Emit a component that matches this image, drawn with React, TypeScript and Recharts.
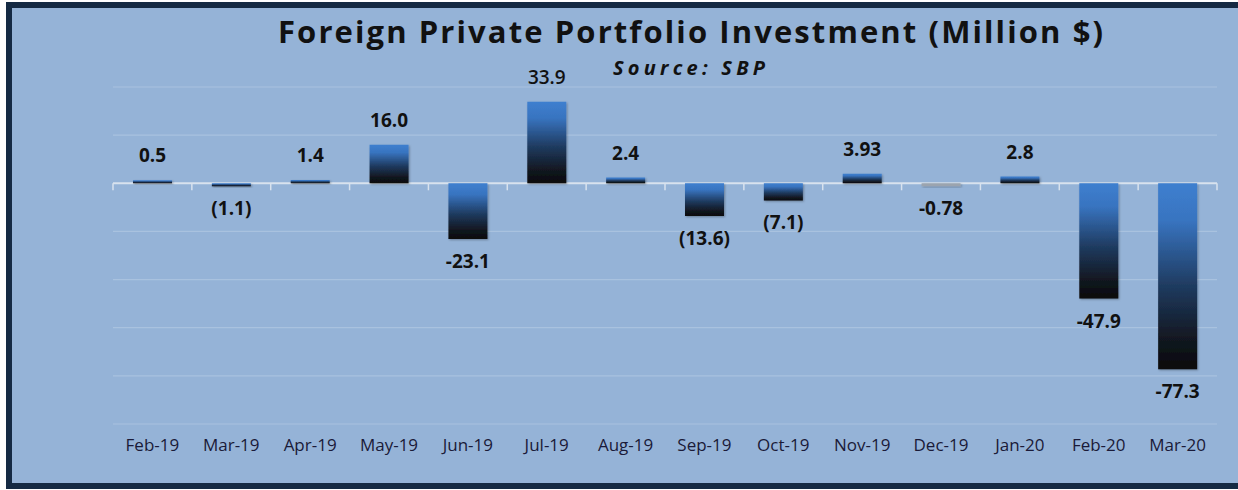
import React from "react";
import { BarChart, Bar, XAxis, YAxis, CartesianGrid, LabelList, Cell } from "recharts";

const categories = ["Feb-19", "Mar-19", "Apr-19", "May-19", "Jun-19", "Jul-19", "Aug-19", "Sep-19", "Oct-19", "Nov-19", "Dec-19", "Jan-20", "Feb-20", "Mar-20"];
const values = [0.5, -1.1, 1.4, 16.0, -23.1, 33.9, 2.4, -13.6, -7.1, 3.93, -0.78, 2.8, -47.9, -77.3];
const valueLabels = ["0.5", "(1.1)", "1.4", "16.0", "-23.1", "33.9", "2.4", "(13.6)", "(7.1)", "3.93", "-0.78", "2.8", "-47.9", "-77.3"];
const yTicks = [-100, -80, -60, -40, -20, 0, 20, 40];

const data = categories.map((c, i) => ({ month: c, value: values[i], label: valueLabels[i] }));

const W = 1238;
const H = 490;
const BG = "#95B3D7";
const BORDER = "#152A43";
const FONT = "'Open Sans', 'DejaVu Sans', sans-serif";
const ZERO_INDEX = yTicks.indexOf(0);

const GridLine = (props: any) => {
  const { x1, y1, x2, index } = props;
  if (index !== ZERO_INDEX) {
    return <line x1={x1} x2={x2} y1={y1} y2={y1} stroke="#A9C2DF" strokeWidth={1.2} />;
  }
  const n = categories.length;
  const step = (x2 - x1) / n;
  const ticks = [];
  for (let i = 0; i <= n; i++) {
    const x = x1 + i * step;
    ticks.push(<line key={i} x1={x} x2={x} y1={y1} y2={y1 + 7} stroke="#D8E2EE" strokeWidth={1.5} />);
  }
  return (
    <g>
      <line x1={x1} x2={x2} y1={y1} y2={y1} stroke="#D8E2EE" strokeWidth={2} />
      {ticks}
    </g>
  );
};

const renderLabel = (props: any) => {
  const { x, y, width, height, index } = props;
  const top = Math.min(y, y + height);
  const bottom = Math.max(y, y + height);
  const v = values[index];
  const cx = x + width / 2;
  const ty = v >= 0 ? top - 18 : bottom + 29;
  return (
    <text x={cx} y={ty} textAnchor="middle" fontFamily={FONT} fontSize={19} fontWeight={index === 5 ? 600 : 700} fill="#111111">
      {valueLabels[index]}
    </text>
  );
};

export default function App() {
  return (
    <div style={{ position: "absolute", left: 0, top: 0, width: W, height: H, background: "#ffffff", overflow: "hidden" }}>
      <svg width={0} height={0} style={{ position: "absolute", left: 0, top: 0 }}>
        <defs>
          <linearGradient id="barGrad" x1="0" y1="0" x2="0" y2="1">
            <stop offset="0%" stopColor="#3E7FCF" />
            <stop offset="20%" stopColor="#3874C0" />
            <stop offset="55%" stopColor="#1F3B60" />
            <stop offset="85%" stopColor="#11161E" />
            <stop offset="100%" stopColor="#0A0A0C" />
          </linearGradient>
          <filter id="barShadow" x="-10%" y="-30%" width="130%" height="160%">
            <feDropShadow dx="1" dy="1" stdDeviation="1" floodColor="#000" floodOpacity="0.3" />
          </filter>
        </defs>
      </svg>
      <div
        style={{
          position: "absolute",
          left: 6,
          top: 2,
          width: W,
          height: H - 3,
          background: BG,
          borderLeft: `6px solid ${BORDER}`,
          borderTop: `6px solid ${BORDER}`,
          borderBottom: `6px solid ${BORDER}`,
          boxSizing: "border-box",
        }}
      />
      <div style={{ position: "absolute", left: 0, top: 0 }}>
        <BarChart
          width={W}
          height={H}
          data={data}
          margin={{ top: 87, right: 21, bottom: 26, left: 113 }}
          barSize={39}
        >
          <CartesianGrid vertical={false} horizontal={GridLine} />
          <XAxis
            dataKey="month"
            axisLine={false}
            tickLine={false}
            height={40}
            tickMargin={9}
            interval={0}
            tick={{ fill: "#1A1A38", fontSize: 17, fontFamily: FONT }}
          />
          <YAxis hide domain={[-100, 40]} ticks={yTicks} />
          <Bar dataKey="value" fill="url(#barGrad)" isAnimationActive={false} minPointSize={3}>
            {data.map((d, i) => (
              <Cell key={i} fill={d.month === "Dec-19" ? "#9BA4AF" : "url(#barGrad)"} filter="url(#barShadow)" />
            ))}
            <LabelList dataKey="label" content={renderLabel} />
          </Bar>
        </BarChart>
      </div>
      <svg width={W} height={H} style={{ position: "absolute", left: 0, top: 0, pointerEvents: "none" }}>
        <text x={278} y={43} fontFamily={FONT} fontSize={31} fontWeight={700} fill="#111111" textLength={825} lengthAdjust="spacing">
          Foreign Private Portfolio Investment (Million $)
        </text>
        <text x={613} y={75} fontFamily={FONT} fontSize={20} fontWeight={700} fontStyle="italic" fill="#111111" textLength={152} lengthAdjust="spacing">
          Source: SBP
        </text>
      </svg>
    </div>
  );
}
